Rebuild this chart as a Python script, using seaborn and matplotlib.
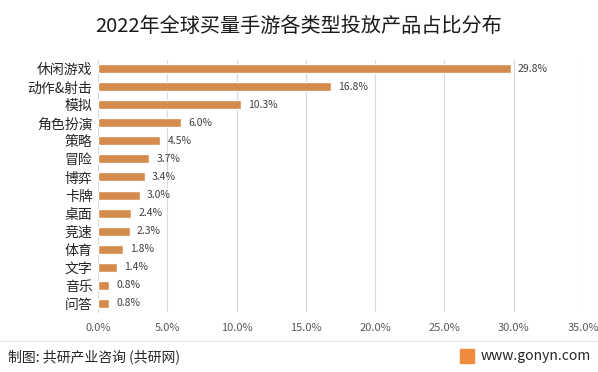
import matplotlib
matplotlib.use("Agg")
import matplotlib.pyplot as plt
import seaborn as sns
import pandas as pd
from matplotlib.patches import Rectangle
from matplotlib.lines import Line2D

# data
categories = ["休闲游戏", "动作&射击", "模拟", "角色扮演", "策略", "冒险", "博弈",
              "卡牌", "桌面", "竞速", "体育", "文字", "音乐", "问答"]
shares = [29.8, 16.8, 10.3, 6.0, 4.5, 3.7, 3.4, 3.0, 2.4, 2.3, 1.8, 1.4, 0.8, 0.8]
xticks = [0, 5, 10, 15, 20, 25, 30, 35]

df = pd.DataFrame({"类型": categories, "占比": shares})

sns.set_style("white")
plt.rcParams["font.family"] = ["Noto Sans CJK SC", "DejaVu Sans"]

fig = plt.figure(figsize=(5.98, 3.72), dpi=100)
ax = fig.add_axes([0.164, 0.161, 0.811, 0.678])

sns.barplot(data=df, x="占比", y="类型", color="#D58B4E", saturation=1,
            width=0.5, ax=ax, zorder=3)

ax.set_xlim(0, 35)
ax.set_xticks(xticks)
ax.set_xticklabels([f"{t:.1f}%" for t in xticks], fontsize=8, color="#595959")
ax.tick_params(axis="y", labelsize=10, labelcolor="#262626", length=0, pad=4)
ax.tick_params(axis="x", length=0, pad=8)
ax.set_xlabel("")
ax.set_ylabel("")
ax.grid(axis="x", color="#D9D9D9", linewidth=0.8, zorder=0)
for s in ["top", "right", "bottom"]:
    ax.spines[s].set_visible(False)
ax.spines["left"].set_color("#D9D9D9")

# value labels
for i, v in enumerate(shares):
    ax.text(v + 0.5, i, f"{v:.1f}%", va="center", ha="left", fontsize=7.5, color="#404040")

fig.text(0.5, 0.93, "2022年全球买量手游各类型投放产品占比分布", ha="center", va="center",
         fontsize=14.5, color="#1A1A1A", fontweight="medium")

# footer
fig.add_artist(Line2D([0.0, 1.0], [0.083, 0.083], color="#E6E6E6", linewidth=0.8))
fig.text(0.013, 0.042, "制图: 共研产业咨询 (共研网)", ha="left", va="center",
         fontsize=10, color="#262626")
fig.add_artist(Rectangle((0.769, 0.024), 0.023, 0.037, color="#F08A3C",
                         transform=fig.transFigure))
fig.text(0.988, 0.042, "www.gonyn.com", ha="right", va="center", fontsize=10, color="#262626")

fig.savefig("out.png", dpi=100)
